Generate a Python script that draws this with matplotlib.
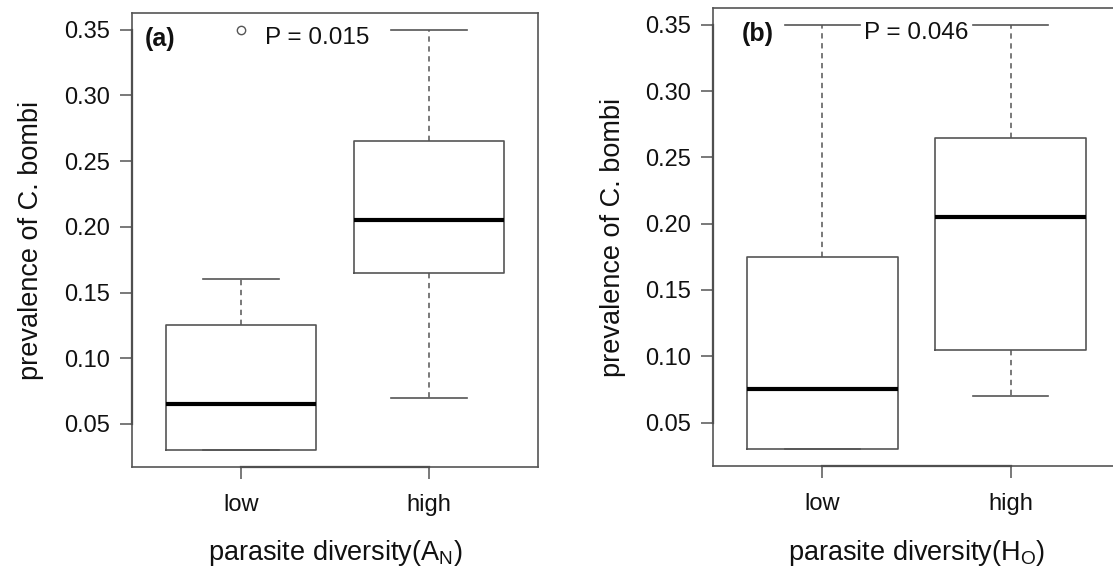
import numpy as np
import matplotlib
matplotlib.use('Agg')
import matplotlib.pyplot as plt

plt.rcParams['font.family'] = ['Liberation Sans', 'DejaVu Sans']
plt.rcParams['mathtext.default'] = 'regular'

# categories
groups = ['low', 'high']

# panel (a): box summaries
a_whislo = [0.03, 0.07]
a_q1 = [0.03, 0.165]
a_med = [0.065, 0.205]
a_q3 = [0.125, 0.265]
a_whishi = [0.16, 0.35]
a_fliers = [[0.35], []]

# panel (b)
b_whislo = [0.03, 0.07]
b_q1 = [0.03, 0.105]
b_med = [0.075, 0.205]
b_q3 = [0.175, 0.265]
b_whishi = [0.35, 0.35]
b_fliers = [[], []]

yticks = [0.05, 0.10, 0.15, 0.20, 0.25, 0.30, 0.35]
p_texts = ['P = 0.015', 'P = 0.046']
panel_tags = ['(a)', '(b)']
xlabels = ['parasite diversity(A$_{N}$)', 'parasite diversity(H$_{O}$)']
ylabel = 'prevalence of C. bombi'

line_col = '#555555'
txt_col = '#111111'
fs_tick = 17
fs_lab = 19.5


def make_stats(wlo, q1, med, q3, whi, fl):
    out = []
    for i in range(len(groups)):
        out.append(dict(whislo=wlo[i], q1=q1[i], med=med[i], q3=q3[i],
                        whishi=whi[i], fliers=fl[i], label=groups[i]))
    return out


fig = plt.figure(figsize=(11.13, 5.70), dpi=100)
ax_a = fig.add_axes([0.1186, 0.1807, 0.3648, 0.7965])
ax_b = fig.add_axes([0.6406, 0.1825, 0.3657, 0.8035])

stats_list = [make_stats(a_whislo, a_q1, a_med, a_q3, a_whishi, a_fliers),
              make_stats(b_whislo, b_q1, b_med, b_q3, b_whishi, b_fliers)]
tag_x = [0.032, 0.071]
p_x = [0.456, 0.499]
ylab_x = [-88 / 406, -87 / 407]
xlab_y = [-0.156, -0.157]

for k, ax in enumerate([ax_a, ax_b]):
    ax.bxp(stats_list[k], positions=[1, 2], widths=0.8, capwidths=0.4,
           boxprops=dict(color=line_col, lw=1.2),
           whiskerprops=dict(color=line_col, lw=1.1, linestyle=(0, (3.5, 3))),
           capprops=dict(color=line_col, lw=1.2),
           medianprops=dict(color='black', lw=3, solid_capstyle='butt'),
           flierprops=dict(marker='o', mfc='none', mec=line_col, ms=6, mew=1))
    ax.set_xlim(0.42, 2.58)
    ax.set_ylim(0.0172, 0.3628)
    ax.set_yticks(yticks)
    ax.set_yticklabels(['%.2f' % v for v in yticks])
    ax.set_xticks([1, 2])
    ax.set_xticklabels(groups)
    ax.tick_params(axis='y', length=8.5, width=1.1, color=line_col, pad=7.5,
                   labelsize=fs_tick, labelcolor=txt_col)
    ax.tick_params(axis='x', length=8.5, width=1.1, color=line_col, pad=11,
                   labelsize=fs_tick, labelcolor=txt_col)
    for s in ax.spines.values():
        s.set_color(line_col)
        s.set_linewidth(1.2)
    # R-style axis lines between first and last tick
    ax.plot([1, 2], [0.0172, 0.0172], color='#333333', lw=1.6, clip_on=False)
    ax.plot([0.42, 0.42], [yticks[0], yticks[-1]], color='#333333', lw=1.6,
            clip_on=False)
    ax.set_ylabel(ylabel, fontsize=fs_lab, color=txt_col)
    ax.set_xlabel(xlabels[k], fontsize=fs_lab, color=txt_col, va='top')
    ax.yaxis.set_label_coords(ylab_x[k], 0.5)
    ax.xaxis.set_label_coords(0.5, xlab_y[k])
    ax.text(tag_x[k], 0.943, panel_tags[k], transform=ax.transAxes,
            fontsize=18, fontweight='bold', va='center', ha='left',
            color=txt_col)
    ax.text(p_x[k], 0.945, p_texts[k], transform=ax.transAxes,
            fontsize=17.5, va='center', ha='center', color=txt_col,
            bbox=dict(facecolor='white', edgecolor='none', pad=1.5))

fig.savefig('out.png', dpi=100)
